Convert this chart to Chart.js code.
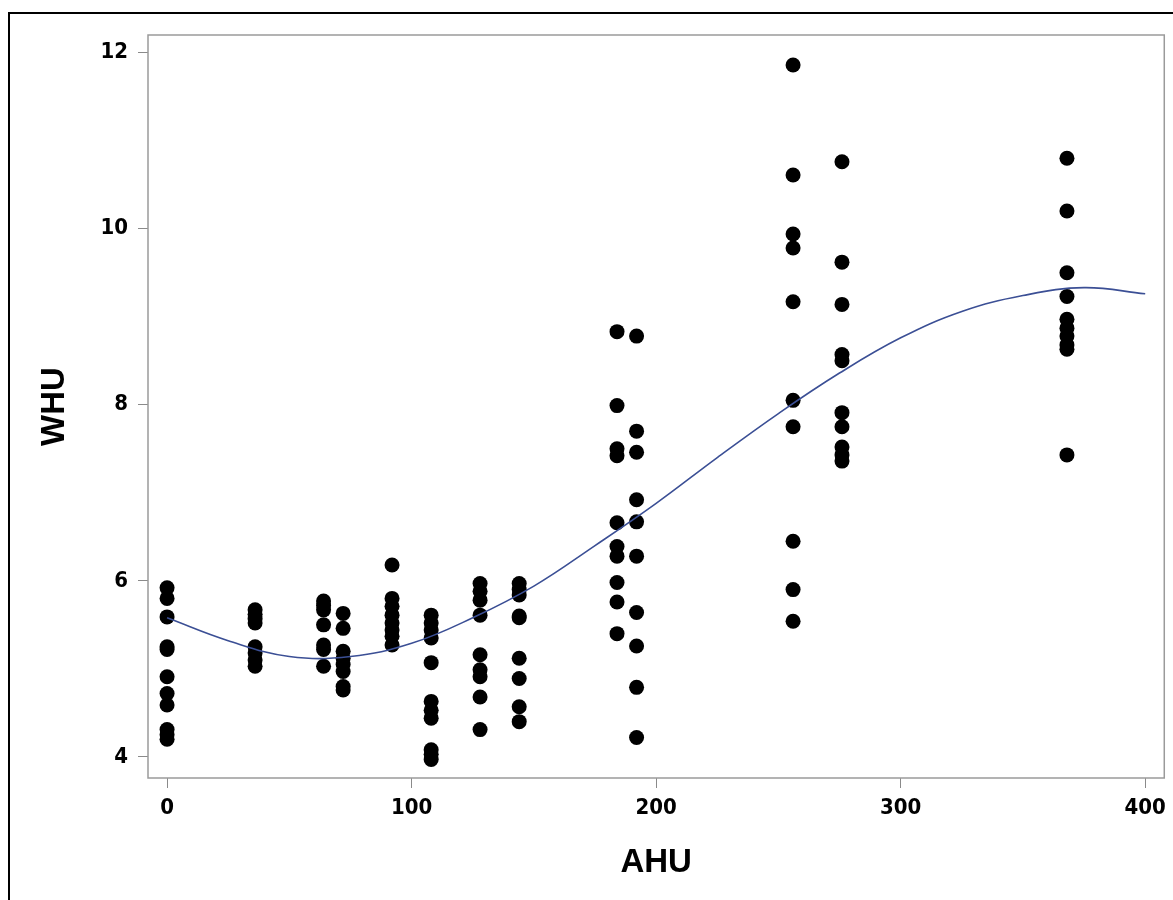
<!DOCTYPE html>
<html>
<head>
<meta charset="utf-8">
<script src="https://cdn.jsdelivr.net/npm/chart.js@4"></script>
<style>
html,body{margin:0;padding:0;background:#fff;}
#wrap{position:relative;width:1173px;height:900px;}
#frame{position:absolute;left:8px;top:12px;right:0;bottom:0;border-left:2px solid #000;border-top:2px solid #000;pointer-events:none;}
canvas{position:absolute;left:0;top:0;}
</style>
</head>
<body>
<div id="wrap">
<canvas id="chart" width="1173" height="900"></canvas>
<div id="frame"></div>
</div>
<script>
// ===== data =====
let ahuDays = [0, 36, 64, 72, 92, 108, 128, 144, 184, 192, 256, 276, 368]

let whuByDay = [
[5.92, 5.80, 5.59, 5.25, 5.22, 4.91, 4.72, 4.59, 4.31, 4.25, 4.20],
[5.67, 5.62, 5.57, 5.52, 5.25, 5.18, 5.10, 5.03],
[5.77, 5.72, 5.67, 5.50, 5.27, 5.22, 5.03],
[5.63, 5.46, 5.20, 5.12, 5.05, 4.97, 4.80, 4.76],
[6.18, 5.80, 5.71, 5.61, 5.52, 5.44, 5.37, 5.27],
[5.61, 5.52, 5.44, 5.35, 5.07, 4.63, 4.53, 4.44, 4.08, 4.03, 3.97],
[5.97, 5.88, 5.78, 5.61, 5.16, 4.99, 4.91, 4.68, 4.31],
[5.97, 5.90, 5.84, 5.60, 5.58, 5.12, 4.89, 4.57, 4.40],
[8.83, 7.99, 7.50, 7.42, 6.66, 6.39, 6.28, 5.98, 5.76, 5.40],
[8.78, 7.70, 7.46, 6.92, 6.67, 6.28, 5.64, 5.26, 4.79, 4.22],
[11.86, 10.61, 9.94, 9.78, 9.17, 8.05, 7.75, 6.45, 5.90, 5.54],
[10.76, 9.62, 9.14, 8.57, 8.50, 7.91, 7.75, 7.52, 7.43, 7.36],
[10.80, 10.20, 9.50, 9.23, 8.97, 8.87, 8.78, 8.68, 8.63, 7.43]
]

// fitted curve
let fitAHU = [0, 25, 50, 75, 100, 125, 150, 175, 200, 225, 250, 275, 300, 325, 350, 375, 400]
let fitWHU = [5.58, 5.32, 5.14, 5.14, 5.29, 5.58, 5.94, 6.40, 6.88, 7.40, 7.90, 8.36, 8.76, 9.06, 9.24, 9.33, 9.26]

let xTicks = [0, 100, 200, 300, 400]
let yTicks = [4, 6, 8, 10, 12]

// ===== build =====
let points = []
ahuDays.forEach((d, i) => {
whuByDay[i].forEach(v => points.push({x: d, y: v}))
})

let curve = fitAHU.map((x, i) => ({x: x, y: fitWHU[i]}))

let tickFont = {family: "'Liberation Sans Narrow', 'DejaVu Sans Condensed', 'Liberation Sans', sans-serif", size: 22, weight: "bold"}
let titleFont = {family: "'Liberation Sans', Arial, sans-serif", size: 33, weight: "bold"}

// gray frame round the plot area
let plotFrame = {
id: "plotFrame",
afterDraw(chart) {
let a = chart.chartArea
let ctx = chart.ctx
ctx.save()
ctx.strokeStyle = "#9a9a9a"
ctx.lineWidth = 1.5
ctx.strokeRect(a.left, a.top, a.right - a.left, a.bottom - a.top)
ctx.restore()
}
}

new Chart(document.getElementById("chart"), {
type: "scatter",
data: {
datasets: [
{
label: "fit",
data: curve,
showLine: true,
tension: 0.4,
borderColor: "#3b4f95",
borderWidth: 1.6,
pointRadius: 0,
fill: false
},
{
label: "WHU",
data: points,
pointRadius: 7.5,
pointBackgroundColor: "#000",
pointBorderColor: "#000",
pointBorderWidth: 0,
showLine: false
}
]
},
plugins: [plotFrame],
options: {
responsive: false,
animation: false,
events: [],
layout: {padding: {top: 35, right: 3, bottom: 0, left: 0}},
plugins: {legend: {display: false}, tooltip: {enabled: false}},
scales: {
x: {
type: "linear",
min: -7.8,
max: 407.8,
afterBuildTicks: s => { s.ticks = xTicks.map(v => ({value: v})) },
afterFit: s => { s.height = 122 },
grid: {drawOnChartArea: false, drawTicks: true, tickLength: 10, color: "#8a8a8a"},
border: {display: false},
ticks: {color: "#000", font: tickFont, padding: 7, maxRotation: 0},
title: {display: true, text: "AHU", color: "#000", font: titleFont, padding: {top: 0, bottom: 17}}
},
y: {
type: "linear",
min: 3.76,
max: 12.2,
afterBuildTicks: s => { s.ticks = yTicks.map(v => ({value: v})) },
afterFit: s => { s.width = 148 },
grid: {drawOnChartArea: false, drawTicks: true, tickLength: 10, color: "#8a8a8a"},
border: {display: false},
ticks: {color: "#000", font: tickFont, padding: 10},
title: {display: true, text: "WHU", color: "#000", font: titleFont, padding: {top: 35, bottom: 0}}
}
}
}
})
</script>
</body>
</html>
